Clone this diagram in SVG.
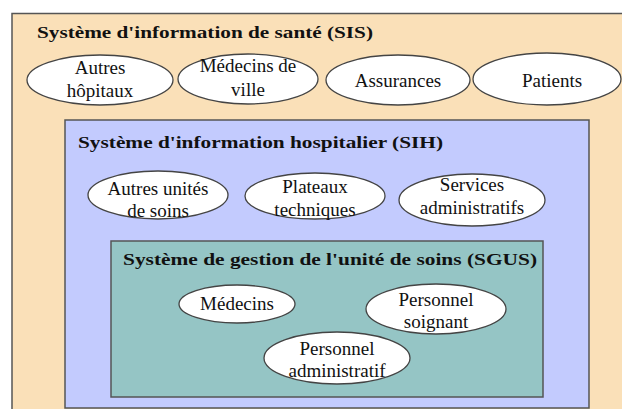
<svg xmlns="http://www.w3.org/2000/svg" width="622" height="409" viewBox="0 0 622 409">
<style>
.box{stroke:#555;stroke-width:1.5}
.ell{fill:#fff;stroke:#444;stroke-width:1.3}
.t{font-size:19px;fill:#111;text-anchor:middle}
.h{font-size:17.5px;font-weight:bold;fill:#111}
</style>
<rect width="622" height="409" fill="#fff"/>
<g font-family="Liberation Serif, Times New Roman, Times, serif">
<g id="sis">
<rect class="box" x="12" y="13.5" width="620" height="410" fill="#FAE0B8"/>
<text class="h" x="37" y="38" textLength="336" lengthAdjust="spacingAndGlyphs">Système d'information de santé (SIS)</text>
</g>
<g id="autres-hopitaux">
<ellipse class="ell" cx="100" cy="80" rx="73" ry="25"/>
<text class="t" x="100" y="74">Autres</text>
<text class="t" x="100" y="97">hôpitaux</text>
</g>
<g id="medecins-ville">
<ellipse class="ell" cx="248" cy="79" rx="70" ry="25"/>
<text class="t" x="248" y="72">Médecins de</text>
<text class="t" x="248" y="96">ville</text>
</g>
<g id="assurances">
<ellipse class="ell" cx="398" cy="80" rx="72" ry="25"/>
<text class="t" x="398" y="87">Assurances</text>
</g>
<g id="patients">
<ellipse class="ell" cx="547" cy="79" rx="74" ry="26"/>
<text class="t" x="552" y="87">Patients</text>
</g>
<g id="sih">
<rect class="box" x="65" y="120" width="524" height="288" fill="#C3CBFE"/>
<text class="h" x="78" y="148" textLength="365" lengthAdjust="spacingAndGlyphs">Système d'information hospitalier (SIH)</text>
</g>
<g id="autres-unites">
<ellipse class="ell" cx="158" cy="195" rx="70" ry="24"/>
<text class="t" x="158" y="195">Autres unités</text>
<text class="t" x="158" y="217">de soins</text>
</g>
<g id="plateaux">
<ellipse class="ell" cx="315" cy="196" rx="70" ry="23"/>
<text class="t" x="315" y="193">Plateaux</text>
<text class="t" x="315" y="216">techniques</text>
</g>
<g id="services">
<ellipse class="ell" cx="472" cy="200" rx="73" ry="26"/>
<text class="t" x="472" y="191">Services</text>
<text class="t" x="472" y="214">administratifs</text>
</g>
<g id="sgus">
<rect class="box" x="111" y="241" width="432" height="156" fill="#95C5C5"/>
<text class="h" x="123" y="265" textLength="414" lengthAdjust="spacingAndGlyphs">Système de gestion de l'unité de soins (SGUS)</text>
</g>
<g id="medecins">
<ellipse class="ell" cx="237" cy="304" rx="58" ry="19"/>
<text class="t" x="237" y="310">Médecins</text>
</g>
<g id="personnel-soignant">
<ellipse class="ell" cx="436" cy="309" rx="70" ry="25"/>
<text class="t" x="436" y="306">Personnel</text>
<text class="t" x="436" y="328">soignant</text>
</g>
<g id="personnel-administratif">
<ellipse class="ell" cx="337" cy="358" rx="73" ry="26"/>
<text class="t" x="337" y="355">Personnel</text>
<text class="t" x="337" y="377">administratif</text>
</g>
</g>
<g id="connectors"></g>
</svg>
